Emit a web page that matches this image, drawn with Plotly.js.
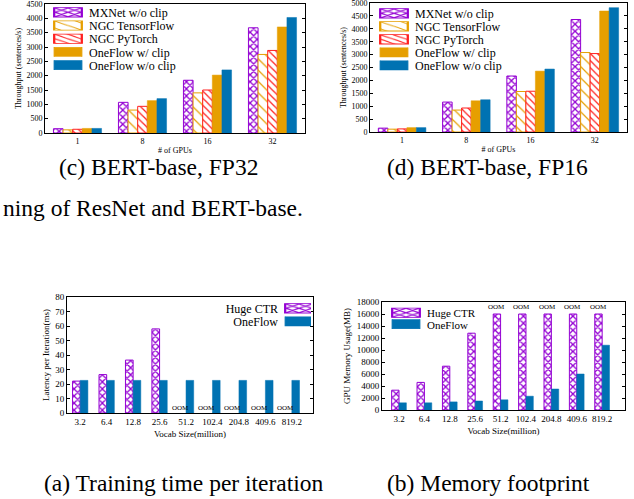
<!DOCTYPE html>
<html><head><meta charset="utf-8">
<script src="https://cdn.plot.ly/plotly-3.0.1.min.js"></script>
<style>html,body{margin:0;padding:0;background:#fff;}</style>
</head><body><div id="chart" style="width:634px;height:499px;"></div>
<script>
// ---- data: BERT-base throughput (sentences/s) ----
const gpus = ['1', '8', '16', '32'];
const fp32_mxnet = [150, 1070, 1840, 3670];
const fp32_tf = [110, 800, 1400, 2740];
const fp32_pt = [130, 930, 1500, 2880];
const fp32_of_clip = [160, 1130, 2020, 3700];
const fp32_of_noclip = [160, 1200, 2200, 4030];

const fp16_mxnet = [150, 1160, 2170, 4360];
const fp16_tf = [110, 850, 1570, 3080];
const fp16_pt = [120, 930, 1580, 3040];
const fp16_of_clip = [170, 1210, 2360, 4690];
const fp16_of_noclip = [170, 1250, 2440, 4820];

// ---- data: embedding vocab size experiments ----
const vocab = ['3.2', '6.4', '12.8', '25.6', '51.2', '102.4', '204.8', '409.6', '819.2'];
const latency_hugectr = [22, 26.5, 36.5, 58, null, null, null, null, null];
const latency_oneflow = [22.5, 22.5, 22.5, 22.5, 22.5, 22.5, 22.5, 22.5, 22.5];
const mem_hugectr = [3300, 4600, 7300, 12800, 16000, 16000, 16000, 16000, 16000];
const mem_hugectr_oom = [false, false, false, false, true, true, true, true, true];
const mem_oneflow = [1200, 1200, 1350, 1500, 1700, 2300, 3500, 6000, 10800];

const FONT = '"Liberation Serif", "Times New Roman", Times, serif';
const PURPLE = '#9400D3', ORANGE = '#E69F00', RED = '#FF2020', BLUE = '#0072B2';

function mx(x, y, xa, ya, lg) {
  return {type:'bar', name:'MXNet w/o clip', x:x, y:y, xaxis:xa, yaxis:ya, legend:lg,
    marker:{color:'#fff', line:{color:PURPLE, width:1},
      pattern:{shape:'x', fgcolor:PURPLE, bgcolor:'#ffffff', size:5, solidity:0.45, fillmode:'replace'}}};
}
function tf(x, y, xa, ya, lg) {
  return {type:'bar', name:'NGC TensorFlow', x:x, y:y, xaxis:xa, yaxis:ya, legend:lg,
    marker:{color:'#fff', line:{color:ORANGE, width:1},
      pattern:{shape:'\\', fgcolor:ORANGE, bgcolor:'#ffffff', size:8, solidity:0.15, fillmode:'replace'}}};
}
function pt(x, y, xa, ya, lg) {
  return {type:'bar', name:'NGC PyTorch', x:x, y:y, xaxis:xa, yaxis:ya, legend:lg,
    marker:{color:'#fff', line:{color:RED, width:1},
      pattern:{shape:'\\', fgcolor:RED, bgcolor:'#ffffff', size:5, solidity:0.25, fillmode:'replace'}}};
}
function ofc(x, y, xa, ya, lg) {
  return {type:'bar', name:'OneFlow w/ clip', x:x, y:y, xaxis:xa, yaxis:ya, legend:lg,
    marker:{color:ORANGE, line:{color:ORANGE, width:0.5}}};
}
function ofn(x, y, xa, ya, lg) {
  return {type:'bar', name:'OneFlow w/o clip', x:x, y:y, xaxis:xa, yaxis:ya, legend:lg,
    marker:{color:BLUE, line:{color:BLUE, width:0.5}}};
}

const W = 0.29;
const traces = [
  mx(gpus, fp32_mxnet, 'x', 'y', 'legend'),
  tf(gpus, fp32_tf, 'x', 'y', 'legend'),
  pt(gpus, fp32_pt, 'x', 'y', 'legend'),
  ofc(gpus, fp32_of_clip, 'x', 'y', 'legend'),
  ofn(gpus, fp32_of_noclip, 'x', 'y', 'legend'),
  mx(gpus, fp16_mxnet, 'x2', 'y2', 'legend2'),
  tf(gpus, fp16_tf, 'x2', 'y2', 'legend2'),
  pt(gpus, fp16_pt, 'x2', 'y2', 'legend2'),
  ofc(gpus, fp16_of_clip, 'x2', 'y2', 'legend2'),
  ofn(gpus, fp16_of_noclip, 'x2', 'y2', 'legend2'),
  {type:'bar', name:'Huge CTR', x:vocab, y:latency_hugectr, xaxis:'x3', yaxis:'y3', legend:'legend3',
    width:W, offset:-W,
    marker:{color:'#fff', line:{color:PURPLE, width:1},
      pattern:{shape:'x', fgcolor:PURPLE, bgcolor:'#ffffff', size:5, solidity:0.45, fillmode:'replace'}}},
  {type:'bar', name:'OneFlow', x:vocab, y:latency_oneflow, xaxis:'x3', yaxis:'y3', legend:'legend3',
    width:W, offset:0, marker:{color:BLUE, line:{color:BLUE, width:0.5}}},
  {type:'bar', name:'Huge CTR', x:vocab, y:mem_hugectr, xaxis:'x4', yaxis:'y4', legend:'legend4',
    width:W, offset:-W,
    marker:{color:'#fff', line:{color:PURPLE, width:1},
      pattern:{shape:'x', fgcolor:PURPLE, bgcolor:'#ffffff', size:5, solidity:0.45, fillmode:'replace'}}},
  {type:'bar', name:'OneFlow', x:vocab, y:mem_oneflow, xaxis:'x4', yaxis:'y4', legend:'legend4',
    width:W, offset:0, marker:{color:BLUE, line:{color:BLUE, width:0.5}}}
];

const H = 499, Wd = 634;
function px(a, b) { return [a / Wd, b / Wd]; }
function py(top, bottom) { return [(H - bottom) / H, (H - top) / H]; }

function xax(domain, anchor, range, fs, title, standoff) {
  return {domain:domain, anchor:anchor, type:'category', range:range, showline:true, mirror:true,
    linecolor:'#000', linewidth:1, ticks:'', showgrid:false, zeroline:false, ticklabeloverflow:'allow',
    tickfont:{family:FONT, size:fs, color:'#000'},
    title:{text:title, font:{family:FONT, size:fs, color:'#000'}, standoff:standoff}};
}
function yax(domain, anchor, range, dtick, fs, title, standoff) {
  return {domain:domain, anchor:anchor, range:range, dtick:dtick, tickformat:'d', showline:true, mirror:'ticks',
    linecolor:'#000', linewidth:1, ticks:'inside', ticklen:3, tickcolor:'#000', showgrid:false, zeroline:false,
    ticklabeloverflow:'allow',
    tickfont:{family:FONT, size:fs, color:'#000'},
    title:{text:title, font:{family:FONT, size:fs, color:'#000'}, standoff:standoff}};
}

const annotations = [];
// OOM labels: HugeCTR runs out of memory (index used as category position)
latency_hugectr.forEach((v, i) => {
  if (v === null) annotations.push({xref:'x3', yref:'y3', x:i, y:0, yanchor:'bottom', xshift:-6, yshift:-1,
    text:'OOM', showarrow:false, font:{family:FONT, size:7, color:'#000'}});
});
mem_hugectr.forEach((v, i) => {
  if (mem_hugectr_oom[i]) annotations.push({xref:'x4', yref:'y4', x:i, y:v, yanchor:'bottom', xshift:-4, yshift:1,
    text:'OOM', showarrow:false, font:{family:FONT, size:7, color:'#000'}});
});
const cap = (t, x, y, anchor) => ({xref:'paper', yref:'paper', x:x / Wd, y:(H - y) / H, xanchor:anchor || 'center', yanchor:'middle',
  text:t, showarrow:false, font:{family:FONT, size:23.5, color:'#000'}});
annotations.push(cap('(c) BERT-base, FP32', 158, 167));
annotations.push(cap('(d) BERT-base, FP16', 487, 167));
annotations.push(cap('ning of ResNet and BERT-base.', 1, 208, 'left'));
annotations.push(cap('(a) Training time per iteration', 184, 483));
annotations.push(cap('(b) Memory footprint', 488, 483));

const legFont = {family:FONT, size:12, color:'#000'};
const legFontSmall = {family:FONT, size:11, color:'#000'};
const layout = {
  width:Wd, height:H, margin:{l:0, r:0, t:0, b:0}, paper_bgcolor:'#fff', plot_bgcolor:'#fff',
  barmode:'group', bargap:0.26, bargroupgap:0,
  font:{family:FONT, color:'#000'},
  xaxis: xax(px(45, 305), 'y', [-0.5, 3.5], 8, '# of GPUs', 2),
  yaxis: yax(py(4, 133), 'x', [0, 4500], 500, 8, 'Throughput (sentences/s)', 3),
  xaxis2: xax(px(370, 627), 'y2', [-0.5, 3.5], 8, '# of GPUs', 2),
  yaxis2: yax(py(3, 132), 'x2', [0, 5000], 500, 8, 'Throughput (sentences/s)', 3),
  xaxis3: xax(px(67, 313), 'y3', [-0.5, 8.8], 9, 'Vocab Size(million)', 4),
  yaxis3: yax(py(297, 413), 'x3', [0, 80], 10, 9, 'Latency per Iteration(ms)', 4),
  xaxis4: xax(px(382, 625), 'y4', [-0.67, 8.9], 9, 'Vocab Size(million)', 4),
  yaxis4: yax(py(302, 410), 'x4', [0, 18000], 2000, 9, 'GPU Memory Usage(MB)', 4),
  legend: {x:49 / Wd, y:1, xanchor:'left', yanchor:'top', bgcolor:'rgba(0,0,0,0)', font:legFont, tracegroupgap:0},
  legend2: {x:375 / Wd, y:1, xanchor:'left', yanchor:'top', bgcolor:'rgba(0,0,0,0)', font:legFont, tracegroupgap:0},
  legend3: {x:311 / Wd, y:(H - 296) / H, xanchor:'right', yanchor:'top', bgcolor:'rgba(0,0,0,0)', font:legFont, tracegroupgap:0},
  legend4: {x:387 / Wd, y:(H - 300) / H, xanchor:'left', yanchor:'top', bgcolor:'rgba(0,0,0,0)', font:legFontSmall, tracegroupgap:0},
  annotations: annotations
};

// compact the legend rows (gnuplot-style key) and widen the key samples
function tidyLegends(gd) {
  const cfg = {legend:{sp:13.2, y0:13}, legend2:{sp:13, y0:14}, legend3:{sp:13, y0:309, right:true, textRight:278},
               legend4:{sp:11.5, y0:313}};
  const root = gd.getBoundingClientRect();
  Object.keys(cfg).forEach(id => {
    try {
      const c = cfg[id];
      let g = null;
      gd.querySelectorAll('g.' + id).forEach(cand => {
        if (!g && cand.classList.contains(id) && cand.querySelector('g.traces text')) g = cand;
      });
      if (!g) return;
      const items = Array.from(g.querySelectorAll('g.traces')).filter(it => it.querySelector('text'));
      if (!items.length) return;
      let maxW = 0;
      items.forEach(it => { const t = it.querySelector('text'); maxW = Math.max(maxW, t.getComputedTextLength()); });
      const x0s = items.map(it => {
        const m = /translate\(\s*([-\d.]+)[ ,]+([-\d.]+)/.exec(it.getAttribute('transform') || '');
        return m ? parseFloat(m[1]) : 0;
      });
      items.forEach((it, i) => {
        it.setAttribute('transform', 'translate(' + x0s[i] + ',0)');
        it.querySelectorAll('g.legendpoints path').forEach(p => {
          if (c.right) p.setAttribute('transform', 'translate(' + (maxW + 7 + 14) + ',0) scale(2.3,0.78)');
          else p.setAttribute('transform', 'translate(19,0) scale(2.3,0.78)');
        });
        if (c.right) {
          const t = it.querySelector('text');
          t.setAttribute('x', maxW); t.setAttribute('text-anchor', 'end'); t.style.textAnchor = 'end';
        }
      });
      const tb = items[0].querySelector('text').getBoundingClientRect();
      const cy = (tb.top + tb.bottom) / 2 - root.top;
      const dx = c.right ? c.textRight - (tb.right - root.left) : 0;
      items.forEach((it, i) => {
        it.setAttribute('transform', 'translate(' + (x0s[i] + dx) + ',' + (c.y0 - cy + i * c.sp) + ')');
      });
    } catch (e) { /* keep plotly's own legend layout */ }
  });
}

Plotly.newPlot('chart', traces, layout, {displayModeBar:false, staticPlot:true}).then(tidyLegends);
</script></body></html>
